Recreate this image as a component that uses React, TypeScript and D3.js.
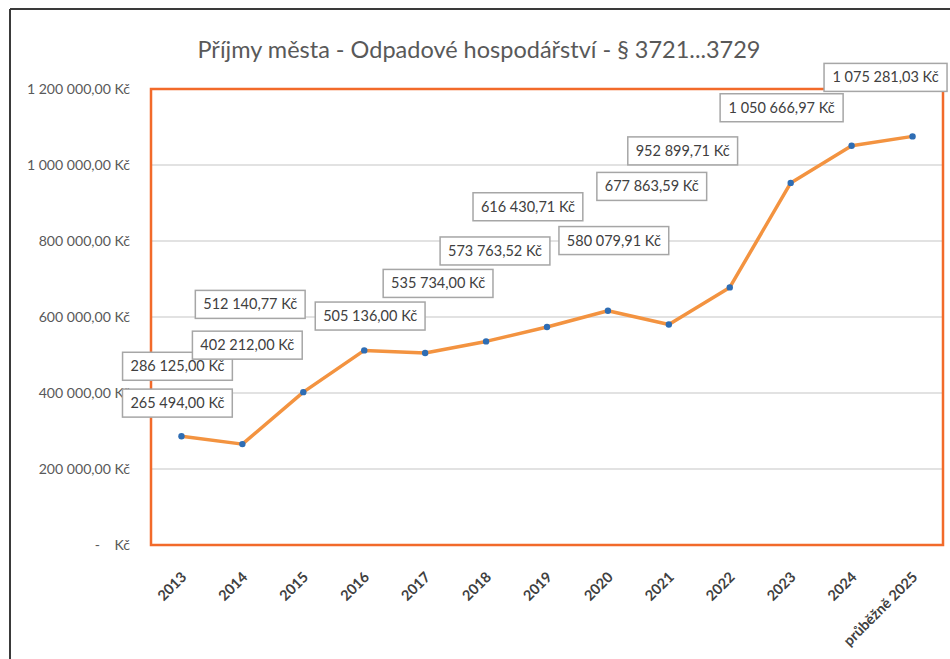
import React from "react";
import * as d3 from "d3";

const categories = ["2013","2014","2015","2016","2017","2018","2019","2020","2021","2022","2023","2024","průběžně 2025"];
const values = [286125.0, 265494.0, 402212.0, 512140.77, 505136.0, 535734.0, 573763.52, 616430.71, 580079.91, 677863.59, 952899.71, 1050666.97, 1075281.03];
const yTicks = [0, 200000, 400000, 600000, 800000, 1000000, 1200000];
// label box offsets (center relative to point), layout only
const labelDx = [-4, -65, -56, -114, -55, -48, -52, -80, -55, -78, -108, -70, -27];
const labelDy = [-70, -41, -47, -46, -37, -58, -76, -104, -84, -101, -32, -38, -59];
const title = "Příjmy města - Odpadové hospodářství - § 3721...3729";

const W = 950, H = 659;
const plot = { left: 151, right: 943, top: 89, bottom: 545 };
const FONT = "Lato, 'Open Sans', sans-serif";

function fmt(v: number): string {
  if (v === 0) return "-    Kč";
  const [i, d] = v.toFixed(2).split(".");
  const int = i.replace(/\B(?=(\d{3})+(?!\d))/g, " ");
  return `${int},${d} Kč`;
}

export default function App() {
  const x = d3.scaleBand<string>().domain(categories).range([plot.left, plot.right]);
  const y = d3.scaleLinear().domain([0, 1200000]).range([plot.bottom, plot.top]);
  const cx = (i: number) => (x(categories[i]) as number) + x.bandwidth() / 2;
  const line = d3.line<number>().x((_, i) => cx(i)).y((v) => y(v));

  return (
    <svg width={W} height={H} style={{ position: "absolute", left: 0, top: 0, background: "#fff" }}>
      <rect x={0} y={0} width={W} height={H} fill="#fff" />
      {/* outer frame */}
      <line x1={10} y1={9} x2={W} y2={9} stroke="#3a3a3a" strokeWidth={2} />
      <line x1={10} y1={9} x2={10} y2={H} stroke="#3a3a3a" strokeWidth={2} />
      <text x={479} y={58} textAnchor="middle" fontFamily={FONT} fontSize={23.5} fill="#595959">{title}</text>
      {/* gridlines */}
      {yTicks.map((t) => (
        <line key={t} x1={plot.left} x2={plot.right} y1={y(t)} y2={y(t)} stroke="#d9d9d9" strokeWidth={1.5} />
      ))}
      {/* y labels */}
      {yTicks.map((t) => (
        <text key={"l" + t} x={130} y={y(t)} dy="0.35em" textAnchor="end" fontFamily={FONT} fontSize={14.1} fill="#595959" style={{ whiteSpace: "pre" }}>
          {fmt(t)}
        </text>
      ))}
      {/* plot border */}
      <rect x={plot.left} y={plot.top} width={plot.right - plot.left} height={plot.bottom - plot.top} fill="none" stroke="#f26a2a" strokeWidth={2.5} />
      {/* x labels */}
      {categories.map((c, i) => (
        <text key={c} transform={`translate(${cx(i) + 6},${plot.bottom + 33}) rotate(-45)`} textAnchor="end" fontFamily={FONT} fontSize={14.5} fontWeight={700} fill="#404040">
          {c}
        </text>
      ))}
      {/* series */}
      <path d={line(values) as string} fill="none" stroke="#f39340" strokeWidth={3.5} strokeLinejoin="round" />
      {values.map((v, i) => (
        <circle key={i} cx={cx(i)} cy={y(v)} r={3.2} fill="#2e6db4" />
      ))}
      {/* data labels */}
      {values.map((v, i) => {
        const s = fmt(v);
        const bw = s.length * 6.6 + 24;
        const bx = cx(i) + labelDx[i];
        const by = y(v) + labelDy[i];
        return (
          <g key={"d" + i}>
            <rect x={bx - bw / 2} y={by - 14} width={bw} height={28} fill="#fff" stroke="#a6a6a6" strokeWidth={1.5} />
            <text x={bx} y={by} dy="0.35em" textAnchor="middle" fontFamily={FONT} fontSize={14.5} fill="#404040">{s}</text>
          </g>
        );
      })}
    </svg>
  );
}
